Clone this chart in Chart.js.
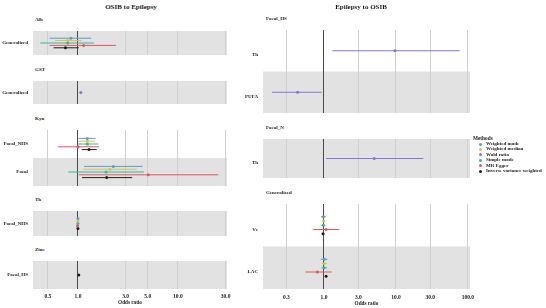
<!DOCTYPE html>
<html>
<head>
<meta charset="utf-8">
<script src="https://cdn.jsdelivr.net/npm/chart.js@4.4.0/dist/chart.umd.min.js"></script>
<style>
  html, body { margin: 0; padding: 0; background: #fff; }
  #page { position: relative; width: 546px; height: 308px; overflow: hidden;
          font-family: "Liberation Serif", "Times New Roman", serif; font-weight: bold; color: #1a1a1a; }
  .t { position: absolute; white-space: nowrap; }
  canvas { position: absolute; }
  .dot { position: absolute; width: 3px; height: 3px; border-radius: 50%; }
</style>
</head>
<body>
<div id="page"></div>
<script>
// methods and their colours
const methods = ["Weighted mode", "Weighted median", "Wald ratio", "Simple mode", "MR Egger", "Inverse variance weighted"];
const methodColors = ["#5b9bd5", "#e3bf3c", "#8077d6", "#2fb7a3", "#e8535c", "#1c1c1c"];

// OSIB to Epilepsy
const leftFacets = ["Alb", "GST", "Kyn", "Th", "Zinc"];
const leftFacetRows = [["Generalized"], ["Generalized"], ["Focal_NHS", "Focal"], ["Focal_NHS"], ["Focal_HS"]];
const leftGroup = ["Alb", "Alb", "Alb", "Alb", "Alb", "GST",
  "Kyn", "Kyn", "Kyn", "Kyn", "Kyn", "Kyn", "Kyn", "Kyn", "Kyn", "Kyn",
  "Th", "Th", "Th", "Th", "Th", "Zinc"];
const leftRow = ["Generalized", "Generalized", "Generalized", "Generalized", "Generalized", "Generalized",
  "Focal_NHS", "Focal_NHS", "Focal_NHS", "Focal_NHS", "Focal_NHS", "Focal", "Focal", "Focal", "Focal", "Focal",
  "Focal_NHS", "Focal_NHS", "Focal_NHS", "Focal_NHS", "Focal_NHS", "Focal_HS"];
const leftMethod = ["Weighted mode", "Weighted median", "Simple mode", "MR Egger", "Inverse variance weighted", "Wald ratio",
  "Weighted mode", "Weighted median", "Simple mode", "MR Egger", "Inverse variance weighted",
  "Weighted mode", "Weighted median", "Simple mode", "MR Egger", "Inverse variance weighted",
  "Weighted mode", "Weighted median", "Simple mode", "MR Egger", "Inverse variance weighted", "Inverse variance weighted"];
const leftOR    = [0.85, 0.79, 0.79, 1.14, 0.75, 1.07, 1.24, 1.24, 1.24, 1.00, 1.29, 2.26, 2.09, 1.91, 5.05, 1.94, 1.00, 1.00, 1.00, 0.99, 1.00, 1.02];
const leftLower = [0.52, 0.59, 0.42, 0.52, 0.57, 1.04, 1.01, 1.01, 1.00, 0.63, 1.09, 1.15, 1.13, 0.80, 1.02, 1.10, 0.99, 0.99, 0.99, 0.98, 0.99, 1.00];
const leftUpper = [1.36, 1.09, 1.44, 2.40, 1.02, 1.10, 1.50, 1.48, 1.60, 1.63, 1.54, 4.43, 3.86, 4.57, 25.3, 3.49, 1.02, 1.01, 1.02, 1.01, 1.01, 1.04];
const leftTicks = [0.5, 1, 3, 5, 10, 30];

// Epilepsy to OSIB
const rightFacets = ["Focal_HS", "Focal_N", "Generalized"];
const rightFacetRows = [["Th", "PUFA"], ["Th"], ["Vc", "LAC"]];
const rightGroup = ["Focal_HS", "Focal_HS", "Focal_N",
  "Generalized", "Generalized", "Generalized", "Generalized", "Generalized",
  "Generalized", "Generalized", "Generalized", "Generalized", "Generalized"];
const rightRow = ["Th", "PUFA", "Th", "Vc", "Vc", "Vc", "Vc", "Vc", "LAC", "LAC", "LAC", "LAC", "LAC"];
const rightMethod = ["Wald ratio", "Wald ratio", "Wald ratio",
  "Weighted mode", "Weighted median", "Simple mode", "MR Egger", "Inverse variance weighted",
  "Weighted mode", "Weighted median", "Simple mode", "MR Egger", "Inverse variance weighted"];
const rightOR    = [9.7, 0.43, 5.0, 0.98, 0.99, 0.98, 1.07, 0.97, 1.01, 1.01, 1.00, 0.81, 1.07];
const rightLower = [1.30, 0.19, 1.07, 0.91, 0.95, 0.92, 0.70, 0.95, 0.90, 0.93, 0.93, 0.55, 1.04];
const rightUpper = [77, 0.93, 24, 1.06, 1.04, 1.05, 1.63, 0.99, 1.12, 1.09, 1.10, 1.28, 1.10];
const rightTicks = [0.3, 1, 3, 10, 30, 100];

const FONT = "'Liberation Serif', 'Times New Roman', serif";
const page = document.getElementById("page");

function addText(txt, x, y, size, align) {
  const d = document.createElement("div");
  d.className = "t";
  d.textContent = txt;
  d.style.fontSize = size + "px";
  d.style.lineHeight = "10px";
  d.style.top = (y - 5) + "px";
  if (align === "center") { d.style.left = (x - 100) + "px"; d.style.width = "200px"; d.style.textAlign = "center"; }
  else d.style.left = x + "px";
  page.appendChild(d);
}

function bandPlugin(n) {
  return {
    id: "bands",
    beforeDraw(chart) {
      const { ctx, chartArea, scales } = chart;
      const y = scales.y;
      ctx.save();
      ctx.fillStyle = "#e2e2e2";
      for (let i = 0; i < n; i++) {
        if ((n - 1 - i) % 2 !== 0) continue;
        const a = y.getPixelForValue(i - 0.5), b = y.getPixelForValue(i + 0.5);
        ctx.fillRect(chartArea.left, Math.min(a, b), chartArea.right - chartArea.left, Math.abs(b - a));
      }
      ctx.restore();
    }
  };
}

function drawPanel(geo, facets, facetRows, group, row, method, or, lo, hi, ticks) {
  facets.forEach((facet, f) => {
    const rows = facetRows[f];
    const isBottom = f === facets.length - 1;
    const top = geo.tops[f];
    const h = (isBottom ? 308 : geo.bottoms[f]) - top;
    const canvas = document.createElement("canvas");
    canvas.width = geo.w; canvas.height = h;
    canvas.style.left = geo.x + "px"; canvas.style.top = top + "px";
    page.appendChild(canvas);
    addText(facet, geo.stripX, top - 7, 5, "left");

    const datasets = [];
    const pts = methods.map(() => []);
    rows.forEach((r, ri) => {
      const idx = [];
      group.forEach((g, i) => { if (g === facet && row[i] === r) idx.push(i); });
      idx.sort((a, b) => methods.indexOf(method[a]) - methods.indexOf(method[b]));
      idx.forEach((i, j) => {
        const m = methods.indexOf(method[i]);
        const yv = ri + (j - (idx.length - 1) / 2) * 0.1;
        pts[m].push({ x: or[i], y: yv });
        datasets.push({
          data: [{ x: lo[i], y: yv }, { x: hi[i], y: yv }],
          showLine: true, borderColor: methodColors[m], borderWidth: 1,
          pointRadius: 0, order: 2
        });
      });
    });
    pts.forEach((p, m) => {
      if (!p.length) return;
      datasets.push({
        data: p, backgroundColor: methodColors[m], borderColor: methodColors[m],
        pointRadius: 1.5, pointBorderWidth: 0, order: 0
      });
    });

    new Chart(canvas, {
      type: "scatter",
      data: { datasets },
      plugins: [bandPlugin(rows.length)],
      options: {
        responsive: false, animation: false, devicePixelRatio: 1, events: [],
        layout: { padding: { left: 0, right: geo.padR, top: 0, bottom: 0 } },
        plugins: { legend: { display: false }, tooltip: { enabled: false } },
        scales: {
          x: {
            type: "logarithmic", min: geo.xMin, max: geo.xMax, bounds: "data",
            border: { display: false },
            grid: {
              drawTicks: false,
              color: c => (c.tick && c.tick.value === 1 ? "#4a4a4a" : "#d0d0d0"),
              lineWidth: 1
            },
            afterBuildTicks: s => { s.ticks = ticks.map(v => ({ value: v })); },
            afterFit: s => { s.height = isBottom ? 308 - geo.bottoms[f] : 0; s.paddingLeft = 0; s.paddingRight = 0; },
            ticks: {
              display: isBottom, autoSkip: false, maxRotation: 0, padding: geo.tickPad,
              color: "#1a1a1a", font: { family: FONT, size: 5.5, weight: "bold" },
              callback: v => Number(v).toFixed(1)
            },
            title: {
              display: isBottom, text: "Odds ratio", color: "#1a1a1a",
              font: { family: FONT, size: 5.2, weight: "bold" }, padding: { top: 0, bottom: geo.titlePad }
            }
          },
          y: {
            type: "linear", reverse: true, min: -0.5, max: rows.length - 0.5,
            border: { display: false },
            grid: { display: false, drawTicks: false },
            afterBuildTicks: s => { s.ticks = rows.map((r, i) => ({ value: i })); },
            afterFit: s => { s.width = geo.yAxisW; s.paddingTop = 0; s.paddingBottom = 0; },
            ticks: {
              autoSkip: false, padding: 5, labelOffset: geo.labelOffset,
              color: "#1a1a1a", font: { family: FONT, size: 5, weight: "bold" },
              callback: v => rows[v]
            }
          }
        }
      }
    });
  });
}

const LEFT = { x: 0, w: 240, yAxisW: 33, padR: 13, xMin: 0.355, xMax: 31, stripX: 35, labelOffset: 0,
  tickPad: 4, titlePad: 2, tops: [27, 77, 126, 207, 257], bottoms: [59, 108, 190, 240, 289] };
const RIGHT = { x: 231, w: 250, yAxisW: 32, padR: 11, xMin: 0.142, xMax: 107, stripX: 266, labelOffset: 4,
  tickPad: 5, titlePad: 1, tops: [26, 135, 200], bottoms: [117, 182, 289] };

drawPanel(LEFT, leftFacets, leftFacetRows, leftGroup, leftRow, leftMethod, leftOR, leftLower, leftUpper, leftTicks);
drawPanel(RIGHT, rightFacets, rightFacetRows, rightGroup, rightRow, rightMethod, rightOR, rightLower, rightUpper, rightTicks);

addText("OSIB to Epilepsy", 131, 7, 7, "center");
addText("Epilepsy to OSIB", 361, 7, 7, "center");

// legend
addText("Methods", 473, 138, 5.3, "left");
methods.forEach((m, i) => {
  const y = 144 + i * 5.45;
  const d = document.createElement("div");
  d.className = "dot";
  d.style.background = methodColors[i];
  d.style.left = "479px"; d.style.top = (y - 1.5) + "px";
  page.appendChild(d);
  addText(m, 486, y, 5, "left");
});
</script>
</body>
</html>
